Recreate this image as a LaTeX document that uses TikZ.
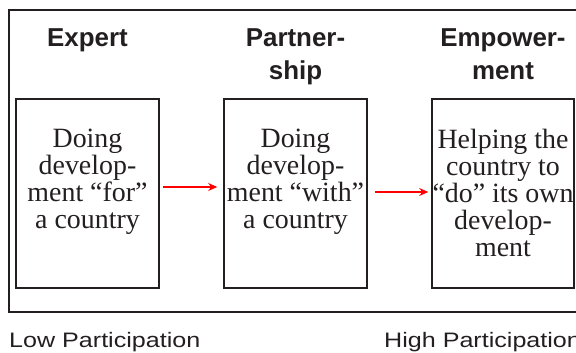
\documentclass[tikz,border=0pt]{standalone}
\usepackage{fontspec}
\setmainfont{Liberation Serif}
\setsansfont{Liberation Sans}
\usetikzlibrary{arrows.meta}

\definecolor{inkgray}{HTML}{231F20}
\definecolor{arrowred}{HTML}{FF0000}

\begin{document}
\begin{tikzpicture}[x = 1bp, y = -1bp,
  stagebox/.style = {draw = inkgray, line width = 1.6bp, minimum width = 143bp, minimum height = 189bp, inner sep = 0pt},
  stagetext/.style = {anchor = north, align = center, inner sep = 0pt, text = inkgray, font = \fontsize{28}{27}\selectfont},
  stagetitle/.style = {anchor = north, align = center, inner sep = 0pt, text = inkgray, font = \sffamily\bfseries\fontsize{26}{33}\selectfont},
  scalelabel/.style = {anchor = base west, inner sep = 0pt, text = inkgray, font = \sffamily\fontsize{21}{25}\selectfont\addfontfeature{FakeStretch = 1.2}},
  movearrow/.style = {draw = arrowred, line width = 1.8bp, -{Stealth[length = 9bp, width = 8bp]}}]
\useasboundingbox (0, 0) rectangle (576, 352);
\draw[inkgray, line width = 1.6bp] (9, 10) rectangle (600, 312);
% the three stages
\node[stagebox] (expert) at (87.5, 193.5){};
\node[stagebox] (partner) at (295.5, 193.5){};
\node[stagebox, minimum width = 142bp] (empower) at (503, 193.5){};
\node[stagetitle] (experttitle) at (87.5, 28.4){Expert};
\node[stagetitle] (partnertitle) at (295.5, 28.4){Partner-\\ship};
\node[stagetitle] (empowertitle) at (503, 28.4){Empower-\\ment};
\node[stagetext] (experttext) at (87.5, 129){Doing\\develop-\\ment “for”\\a country};
\node[stagetext] (partnertext) at (295.5, 129){Doing\\develop-\\ment “with”\\a country};
\node[stagetext] (empowertext) at (503, 129){Helping the\\country to\\“do” its own\\develop-\\ment};
\draw[movearrow, shorten <= 3bp, shorten >= 6bp] ([yshift = 6.5bp]expert.east) -- ([yshift = 6.5bp]partner.west);
\draw[movearrow, shorten <= 7bp, shorten >= 3bp] ([yshift = 1.5bp]partner.east) -- ([yshift = 1.5bp]empower.west);
% participation scale
\node[scalelabel] (lowend) at (9, 347){Low Participation};
\node[scalelabel] (highend) at (384, 347){High Participation};
\end{tikzpicture}
\end{document}
